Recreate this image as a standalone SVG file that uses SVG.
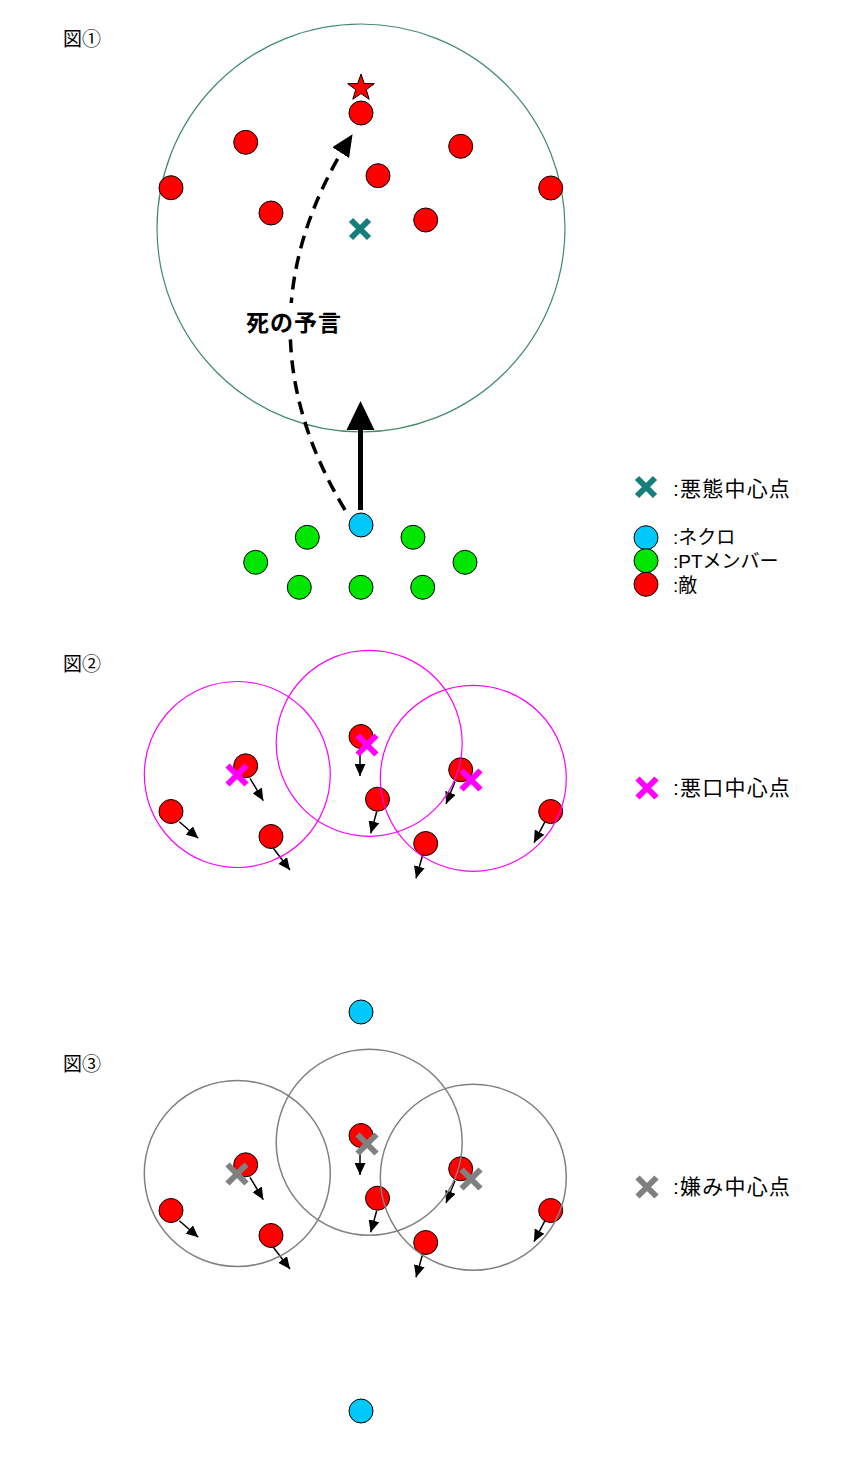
<svg xmlns="http://www.w3.org/2000/svg" width="862" height="1464" viewBox="0 0 862 1464">
<defs>
<style>
.red{fill:#FF0000;stroke:#000;stroke-width:1}
.grn{fill:#00E600;stroke:#000;stroke-width:1}
.blu{fill:#00C8F8;stroke:#000;stroke-width:1}
.xt{stroke:#167F7A;stroke-width:6;fill:none}
.xm{stroke:#FF00FF;stroke-width:6;fill:none}
.xg{stroke:#808080;stroke-width:6;fill:none}
.rm{fill:none;stroke:#FF00FF;stroke-width:1.2}
.rg{fill:none;stroke:#808080;stroke-width:1.5}
.sa{stroke:#000;stroke-width:1.5;fill:none;marker-end:url(#ah)}
.hdr{font-family:"Liberation Sans","Noto Sans CJK JP",sans-serif;font-size:19px;fill:#000}
.lg{font-family:"Liberation Sans","Noto Sans CJK JP",sans-serif;font-size:19px;fill:#000}
.lg2{font-family:"Liberation Sans","Noto Sans CJK JP",sans-serif;font-size:21px;letter-spacing:1.2px;fill:#000}
</style>
<marker id="ah" markerUnits="userSpaceOnUse" markerWidth="12" markerHeight="11" refX="12" refY="5.5" orient="auto"><path d="M0,0 L12,5.5 L0,11 z" fill="#000"/></marker>
<marker id="big" markerUnits="userSpaceOnUse" markerWidth="22" markerHeight="20" refX="21" refY="10" orient="auto"><path d="M0,0 L22,10 L0,20 z" fill="#000"/></marker>
</defs>
<rect width="862" height="1464" fill="#fff"/>

<!-- Figure 1 -->
<text class="hdr" x="63" y="46">図①</text>
<g id="range1"><circle cx="361" cy="228" r="204" fill="none" stroke="#3F8C68" stroke-width="1.2"/></g>
<g id="fig1-enemies">
<circle class="red" cx="361" cy="113" r="12"/>
<circle class="red" cx="245.7" cy="142.3" r="12"/>
<circle class="red" cx="460.7" cy="146.3" r="12"/>
<circle class="red" cx="378" cy="175.7" r="12"/>
<circle class="red" cx="171" cy="187.7" r="12"/>
<circle class="red" cx="550.7" cy="188" r="12"/>
<circle class="red" cx="271" cy="213" r="12"/>
<circle class="red" cx="425.7" cy="220" r="12"/>
</g>
<g id="star"><polygon points="361,74 364.3,83.5 374.3,83.7 366.3,89.7 369.2,99.3 361,93.6 352.8,99.3 355.7,89.7 347.7,83.7 357.7,83.5" fill="#FF0000" stroke="#000" stroke-width="1"/></g>
<g id="center1"><path class="xt" d="M351,220 L369,238 M369,220 L351,238"/></g>
<g id="party">
<circle class="blu" cx="361" cy="525" r="12"/>
<circle class="grn" cx="307.3" cy="537.3" r="12"/>
<circle class="grn" cx="413" cy="537.3" r="12"/>
<circle class="grn" cx="255.7" cy="562.3" r="12"/>
<circle class="grn" cx="465" cy="562.3" r="12"/>
<circle class="grn" cx="299.3" cy="587.3" r="12"/>
<circle class="grn" cx="361" cy="587.3" r="12"/>
<circle class="grn" cx="422.7" cy="587.3" r="12"/>
</g>
<g id="connectors1">
<path d="M345,510 Q232,322 352,135" fill="none" stroke="#000" stroke-width="3.5" stroke-dasharray="13,8" marker-end="url(#big)"/>
<line x1="360.5" y1="510" x2="360.5" y2="428" stroke="#000" stroke-width="5"/>
<polygon points="360.5,401 346.5,430 374.5,430" fill="#000"/>
</g>
<g id="label1">
<rect x="243" y="303" width="102" height="36" fill="#fff"/>
<text x="246" y="331" font-family="'Noto Sans CJK JP',sans-serif" font-size="23" font-weight="bold" letter-spacing="1">死の予言</text>
</g>
<g id="legend1">
<path class="xt" d="M637,478 L655,496 M655,478 L637,496"/>
<text class="lg2" x="673" y="496">:悪態中心点</text>
<circle class="blu" cx="646" cy="537.7" r="12"/>
<circle class="grn" cx="646" cy="560.7" r="12"/>
<circle class="red" cx="646" cy="584.3" r="12"/>
<text class="lg" x="673" y="544">:ネクロ</text>
<text class="lg" x="673" y="568">:PTメンバー</text>
<text class="lg" x="673" y="592">:敵</text>
</g>

<!-- Figure 2 -->
<text class="hdr" x="63" y="671">図②</text>
<g id="fig2-enemies">
<circle class="red" cx="361" cy="736.5" r="12"/>
<circle class="red" cx="245.7" cy="765.8" r="12"/>
<circle class="red" cx="460.7" cy="769.8" r="12"/>
<circle class="red" cx="377.5" cy="799.2" r="12"/>
<circle class="red" cx="171" cy="811.5" r="12"/>
<circle class="red" cx="550.7" cy="811.5" r="12"/>
<circle class="red" cx="271" cy="836.5" r="12"/>
<circle class="red" cx="425.7" cy="843.5" r="12"/>
</g>
<g id="connectors2">
<line class="sa" x1="250" y1="778.3" x2="263.3" y2="800.7"/>
<line class="sa" x1="360" y1="748.3" x2="360" y2="776"/>
<line class="sa" x1="455" y1="781.7" x2="446" y2="804"/>
<line class="sa" x1="376.7" y1="811.7" x2="370.7" y2="833.3"/>
<line class="sa" x1="179.3" y1="821.7" x2="198.3" y2="838.3"/>
<line class="sa" x1="545" y1="821.7" x2="534" y2="842.7"/>
<line class="sa" x1="273.3" y1="848.3" x2="290" y2="870"/>
<line class="sa" x1="422.7" y1="855" x2="416" y2="878.3"/>
</g>
<g id="ranges2">
<circle class="rm" cx="237.3" cy="774.5" r="93"/>
<circle class="rm" cx="369.2" cy="743.3" r="93"/>
<circle class="rm" cx="473.3" cy="778.3" r="93"/>
</g>
<g id="centers2">
<path class="xm" d="M227.5,765.5 L246.5,784.5 M246.5,765.5 L227.5,784.5"/>
<path class="xm" d="M357.5,735.5 L376.5,754.5 M376.5,735.5 L357.5,754.5"/>
<path class="xm" d="M461.5,770.5 L480.5,789.5 M480.5,770.5 L461.5,789.5"/>
</g>
<g id="necro2"><circle class="blu" cx="361" cy="1012" r="12"/></g>
<g id="legend2">
<path class="xm" d="M637.5,778.5 L656.5,797.5 M656.5,778.5 L637.5,797.5"/>
<text class="lg2" x="673" y="795">:悪口中心点</text>
</g>

<!-- Figure 3 -->
<text class="hdr" x="63" y="1071">図③</text>
<g id="fig3-enemies">
<circle class="red" cx="361" cy="1135.5" r="12"/>
<circle class="red" cx="245.7" cy="1164.8" r="12"/>
<circle class="red" cx="460.7" cy="1168.8" r="12"/>
<circle class="red" cx="377.5" cy="1198.2" r="12"/>
<circle class="red" cx="171" cy="1210.5" r="12"/>
<circle class="red" cx="550.7" cy="1210.5" r="12"/>
<circle class="red" cx="271" cy="1235.5" r="12"/>
<circle class="red" cx="425.7" cy="1242.5" r="12"/>
</g>
<g id="connectors3">
<line class="sa" x1="250" y1="1177.3" x2="263.3" y2="1199.7"/>
<line class="sa" x1="360" y1="1147.3" x2="360" y2="1175"/>
<line class="sa" x1="455" y1="1180.7" x2="446" y2="1203"/>
<line class="sa" x1="376.7" y1="1210.7" x2="370.7" y2="1232.3"/>
<line class="sa" x1="179.3" y1="1220.7" x2="198.3" y2="1237.3"/>
<line class="sa" x1="545" y1="1220.7" x2="534" y2="1241.7"/>
<line class="sa" x1="273.3" y1="1247.3" x2="290" y2="1269"/>
<line class="sa" x1="422.7" y1="1254" x2="416" y2="1277.3"/>
</g>
<g id="ranges3">
<circle class="rg" cx="237.3" cy="1173.5" r="93"/>
<circle class="rg" cx="369.2" cy="1142.3" r="93"/>
<circle class="rg" cx="473.3" cy="1177.3" r="93"/>
</g>
<g id="centers3">
<path class="xg" d="M227.5,1164.5 L246.5,1183.5 M246.5,1164.5 L227.5,1183.5"/>
<path class="xg" d="M357.5,1134.5 L376.5,1153.5 M376.5,1134.5 L357.5,1153.5"/>
<path class="xg" d="M461.5,1169.5 L480.5,1188.5 M480.5,1169.5 L461.5,1188.5"/>
</g>
<g id="necro3"><circle class="blu" cx="361" cy="1411" r="12"/></g>
<g id="legend3">
<path class="xg" d="M637.5,1177.5 L656.5,1196.5 M656.5,1177.5 L637.5,1196.5"/>
<text class="lg2" x="673" y="1194">:嫌み中心点</text>
</g>
</svg>
